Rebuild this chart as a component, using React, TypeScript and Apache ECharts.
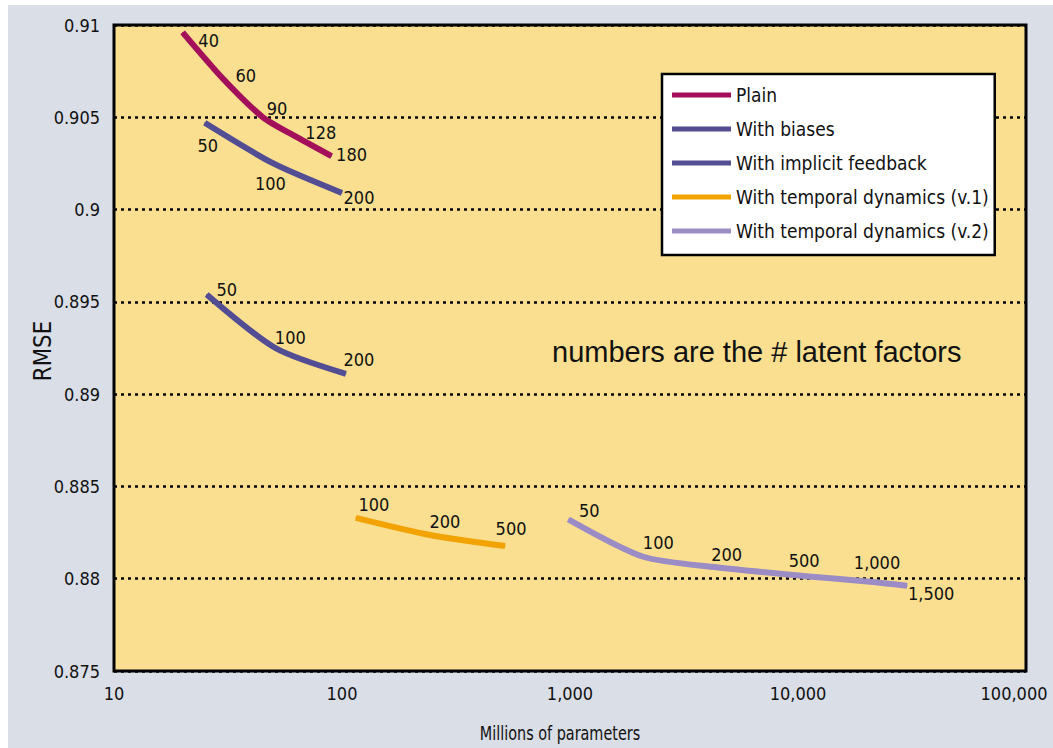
import React, { useEffect, useRef } from "react";
import * as echarts from "echarts";

// ---- Data ----
const xTickValues = [10, 100, 1000, 10000, 100000];
const yTickValues = [0.875, 0.88, 0.885, 0.89, 0.895, 0.9, 0.905, 0.91];

const plainParams = [20, 30, 45, 64, 90];
const plainRmse = [0.9096, 0.9071, 0.905, 0.9039, 0.9029];
const plainFactors = ["40", "60", "90", "128", "180"];

const biasesParams = [25, 50, 100];
const biasesRmse = [0.9047, 0.9025, 0.9009];
const biasesFactors = ["50", "100", "200"];

const implicitParams = [25.5, 51, 104];
const implicitRmse = [0.8954, 0.8925, 0.8911];
const implicitFactors = ["50", "100", "200"];

const temporal1Params = [115, 243, 519];
const temporal1Rmse = [0.8833, 0.88237, 0.88177];
const temporal1Factors = ["100", "200", "500"];

const temporal2Params = [983, 2097, 4395, 10540, 20700, 30100];
const temporal2Rmse = [0.88322, 0.88119, 0.88062, 0.88015, 0.87984, 0.87962];
const temporal2Factors = ["50", "100", "200", "500", "1,000", "1,500"];

// ---- Label placement (style, offsets from each point in px) ----
const plainLabelOffsets = [[26, 8], [23, -3], [14, -9], [23, -5], [20, -2]];
const biasesLabelOffsets = [[3, 23], [-3, 20], [17, 5]];
const implicitLabelOffsets = [[20, -5], [15, -11], [13, -14]];
const temporal1LabelOffsets = [[18, -13], [15, -13], [6, -18]];
const temporal2LabelOffsets = [[21, -9], [15, -14], [10, -13], [1, -15], [7, -19], [24, 8]];

const COND = "'DejaVu Sans Condensed', 'Liberation Sans Narrow', 'Liberation Sans', sans-serif";
const SANS = "'Liberation Sans', Arial, Helvetica, sans-serif";

const C_PLAIN = "#a40f5b";
const C_BIAS = "#534d93";
const C_T1 = "#f2a300";
const C_T2 = "#9b8cc6";

function fmtThousands(v: number) {
  return Math.round(v).toString().replace(/\B(?=(\d{3})+(?!\d))/g, ",");
}

function makeSeries(
  name: string,
  color: string,
  xs: number[],
  ys: number[],
  labels: string[],
  offsets: number[][]
) {
  return {
    name,
    type: "line",
    color,
    smooth: 0.25,
    symbol: "circle",
    symbolSize: 1,
    showSymbol: true,
    lineStyle: { width: 6, color, join: "round" },
    itemStyle: { color },
    emphasis: { disabled: true },
    label: {
      show: true,
      color: "#111",
      fontSize: 18,
      fontFamily: COND,
    },
    data: xs.map((x, i) => ({
      value: [x, ys[i]],
      label: {
        show: true,
        position: "inside",
        offset: offsets[i],
        formatter: labels[i],
      },
    })),
  };
}

export default function App() {
  const ref = useRef<HTMLDivElement>(null);

  useEffect(() => {
    if (!ref.current) return;
    const chart = echarts.init(ref.current, undefined, { renderer: "svg" });
    const xMax = xTickValues[xTickValues.length - 1];
    chart.setOption({
      animation: false,
      backgroundColor: "transparent",
      grid: {
        left: 114,
        top: 25,
        right: 27,
        bottom: 77,
        outerBoundsMode: "none",
        containLabel: false,
        show: true,
        backgroundColor: "#f9df8f",
        borderColor: "#000",
        borderWidth: 3,
      },
      xAxis: {
        type: "log",
        logBase: 10,
        min: xTickValues[0],
        max: xMax,
        axisLine: { show: false },
        axisTick: { show: false },
        splitLine: { show: false },
        axisLabel: {
          color: "#111",
          fontSize: 18,
          fontFamily: COND,
          margin: 13,
          formatter: (v: number) => {
            const s = fmtThousands(v);
            return Math.abs(v - xMax) < 1e-6 ? `{r|${s}}` : s;
          },
          rich: {
            r: {
              color: "#111",
              fontSize: 18,
              fontFamily: COND,
              padding: [0, 24, 0, 0],
            },
          },
        },
      },
      yAxis: {
        type: "value",
        min: yTickValues[0],
        max: yTickValues[yTickValues.length - 1],
        interval: 0.005,
        axisLine: { show: false },
        axisTick: { show: false },
        splitLine: {
          show: true,
          lineStyle: { color: "#000", width: 2.5, type: [3, 4] },
        },
        axisLabel: {
          color: "#111",
          fontSize: 18,
          fontFamily: COND,
          margin: 14,
          formatter: (v: number) => String(parseFloat(v.toFixed(3))),
        },
      },
      legend: {
        show: true,
        orient: "vertical",
        left: 662,
        top: 74,
        padding: [9, 6, 12, 10],
        itemGap: 10,
        itemWidth: 59,
        itemHeight: 5,
        icon: "rect",
        selectedMode: false,
        backgroundColor: "#fff",
        borderColor: "#000",
        borderWidth: 2.5,
        borderRadius: 0,
        textStyle: {
          color: "#111",
          fontSize: 19,
          fontFamily: COND,
          lineHeight: 24,
        },
        data: [
          "Plain",
          "With biases",
          "With implicit feedback",
          "With temporal dynamics (v.1)",
          "With temporal dynamics (v.2)",
        ],
      },
      graphic: [
        {
          type: "text",
          left: 552,
          top: 337,
          style: {
            text: "numbers are the # latent factors",
            fontSize: 29,
            fontFamily: SANS,
            fill: "#111",
          },
        },
        {
          type: "text",
          x: 42,
          y: 351,
          rotation: Math.PI / 2,
          scaleX: 0.95,
          style: {
            text: "RMSE",
            fontSize: 25,
            fontFamily: COND,
            fill: "#111",
            align: "center",
            verticalAlign: "middle",
          },
        },
        {
          type: "text",
          x: 560,
          y: 733,
          scaleX: 0.8,
          style: {
            text: "Millions of parameters",
            fontSize: 20,
            fontFamily: COND,
            fill: "#111",
            align: "center",
            verticalAlign: "middle",
          },
        },
      ],
      series: [
        makeSeries("Plain", C_PLAIN, plainParams, plainRmse, plainFactors, plainLabelOffsets),
        makeSeries("With biases", C_BIAS, biasesParams, biasesRmse, biasesFactors, biasesLabelOffsets),
        makeSeries("With implicit feedback", C_BIAS, implicitParams, implicitRmse, implicitFactors, implicitLabelOffsets),
        makeSeries("With temporal dynamics (v.1)", C_T1, temporal1Params, temporal1Rmse, temporal1Factors, temporal1LabelOffsets),
        makeSeries("With temporal dynamics (v.2)", C_T2, temporal2Params, temporal2Rmse, temporal2Factors, temporal2LabelOffsets),
      ],
    });
    return () => chart.dispose();
  }, []);

  return (
    <div style={{ position: "fixed", left: 0, top: 0, width: 1053, height: 748, background: "#fff", overflow: "hidden" }}>
      <div style={{ position: "absolute", left: 8, top: 5, right: 0, bottom: 0, background: "#dadee7" }} />
      <div ref={ref} style={{ position: "absolute", left: 0, top: 0, width: 1053, height: 748 }} />
    </div>
  );
}
